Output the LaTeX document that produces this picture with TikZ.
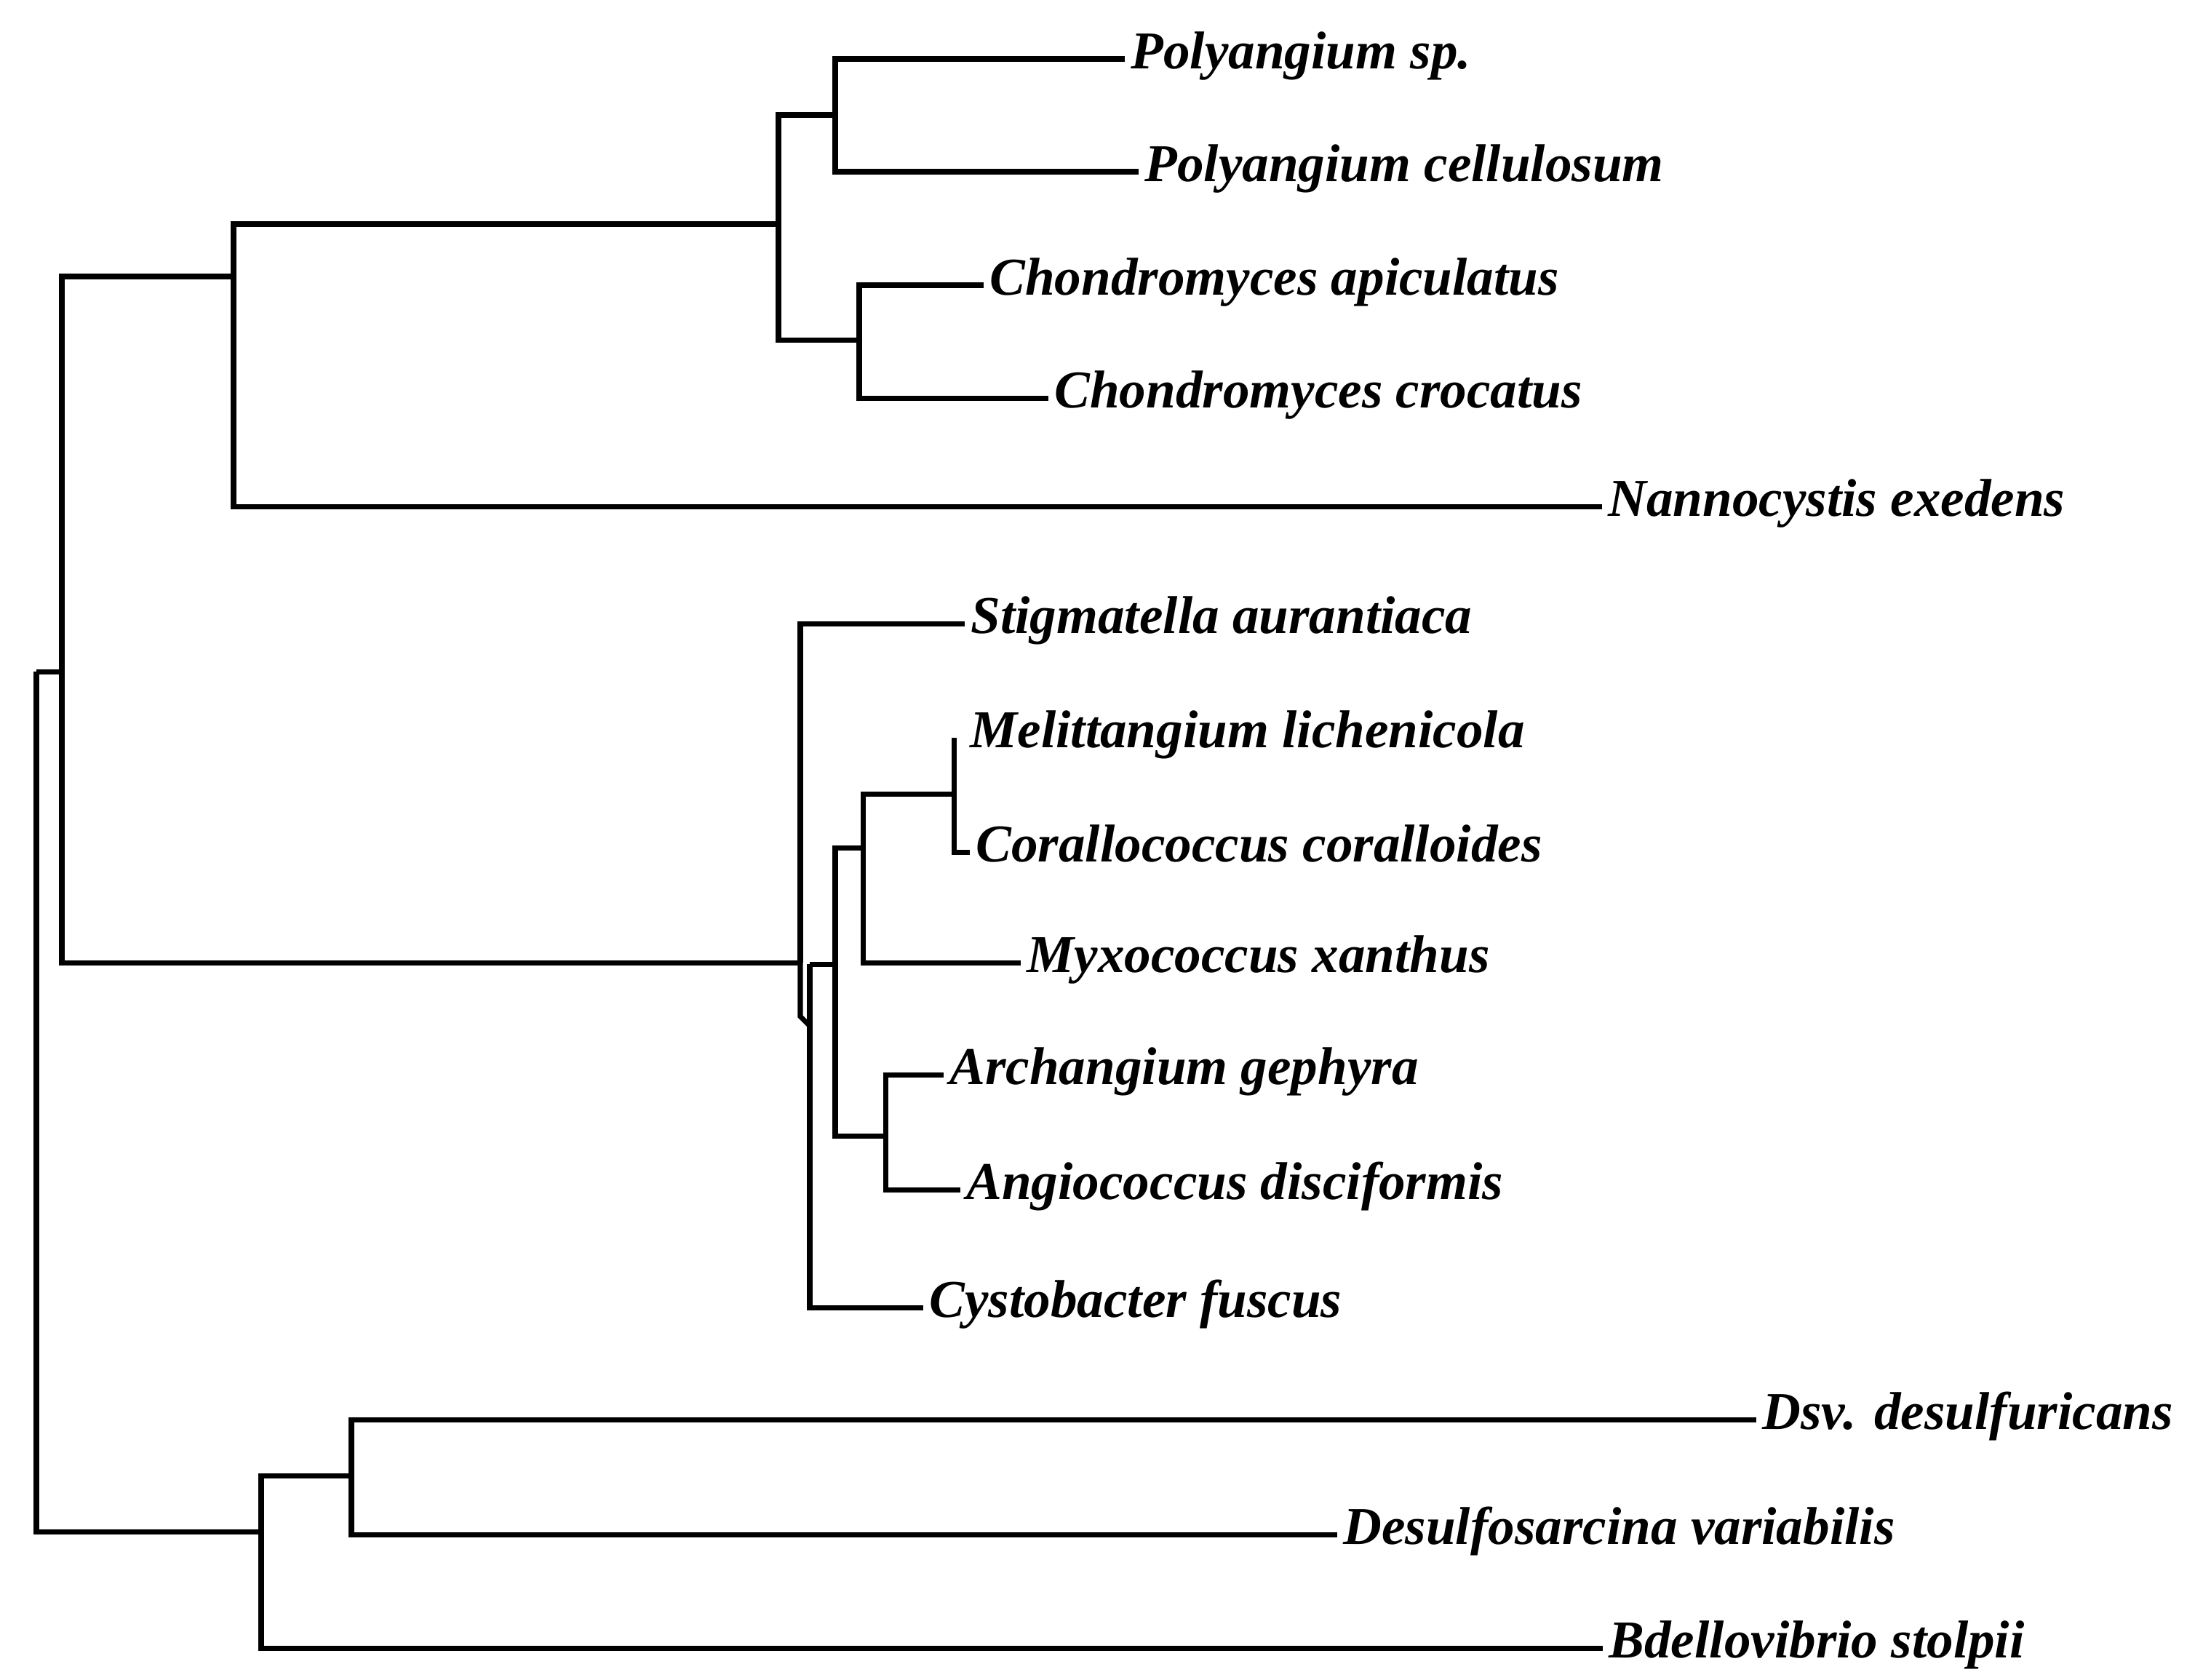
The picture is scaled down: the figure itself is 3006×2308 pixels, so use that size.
\documentclass[tikz,border=0pt]{standalone}
\usepackage{fontspec}
\setmainfont{Liberation Serif}
\begin{document}
\begin{tikzpicture}[x=0.01cm, y=-0.01cm, line width=2pt,
	leaf/.style={anchor=west, inner xsep=0.05cm, inner ysep=0pt, text height=0.47cm, text depth=0.21cm,
		font=\fontsize{20.8}{25}\selectfont\bfseries\itshape}]
	\useasboundingbox (0,0) rectangle (3006,2308);
	
	% 内部节点
	\coordinate (R) at (50,923);
	\coordinate (T) at (85,923);
	\coordinate (PCN) at (321,380);
	\coordinate (PC) at (1070,308);
	\coordinate (P1) at (1148,158);
	\coordinate (C1) at (1181,467);
	\coordinate (S) at (1100,1323);
	\coordinate (jog) at (1113,1410);
	\coordinate (Cy) at (1113,1325);
	\coordinate (I) at (1148,1325);
	\coordinate (MCM) at (1186,1165);
	\coordinate (MC) at (1311,1091);
	\coordinate (AA) at (1217,1561);
	\coordinate (B) at (359,2105);
	\coordinate (D) at (483,2028);
	
	% 物种名
	\node[leaf] (polsp) at (1546,81) {Polyangium sp.};
	\node[leaf] (polcel) at (1565,236) {Polyangium cellulosum};
	\node[leaf] (chapi) at (1352,392) {Chondromyces apiculatus};
	\node[leaf] (chcro) at (1441,547) {Chondromyces crocatus};
	\node[leaf] (nann) at (2202,696) {Nannocystis exedens};
	\node[leaf] (stig) at (1326,857) {Stigmatella aurantiaca};
	\node[leaf] (meli) at (1325,1014) {Melittangium lichenicola};
	\node[leaf] (coral) at (1333,1171) {Corallococcus coralloides};
	\node[leaf] (myxo) at (1403,1323) {Myxococcus xanthus};
	\node[leaf] (arch) at (1297,1477) {Archangium gephyra};
	\node[leaf] (angio) at (1320,1635) {Angiococcus disciformis};
	\node[leaf] (cysto) at (1269,1797) {Cystobacter fuscus};
	\node[leaf] (dsv) at (2414,1951) {Dsv. desulfuricans};
	\node[leaf] (dsar) at (1838,2109) {Desulfosarcina variabilis};
	\node[leaf] (bdel) at (2203,2265) {Bdellovibrio stolpii};
	
	% 根
	\draw (R) -- (T);
	\draw (R) |- (B);
	\draw (T) |- (PCN);
	\draw (T) |- (S);
	
	% Polyangium / Chondromyces / Nannocystis
	\draw (PCN) |- (PC);
	\draw (PCN) |- (nann.west);
	\draw (PC) |- (P1);
	\draw (PC) |- (C1);
	\draw (P1) |- (polsp.west);
	\draw (P1) |- (polcel.west);
	\draw (C1) |- (chapi.west);
	\draw (C1) |- (chcro.west);
	
	% 粘球菌
	\draw (S) |- (stig.west);
	\draw (S) -- ++(0,74) -- (jog);
	\draw (Cy) |- (cysto.west);
	\draw (Cy) -- (I);
	\draw (I) |- (MCM);
	\draw (I) |- (AA);
	\draw (MCM) |- (MC);
	\draw (MCM) |- (myxo.west);
	\draw (MC) -- (MC |- meli.west);
	\draw (MC) |- (coral.west);
	\draw (AA) |- (arch.west);
	\draw (AA) |- (angio.west);
	
	% 外群
	\draw (B) |- (D);
	\draw (B) |- (bdel.west);
	\draw (D) |- (dsv.west);
	\draw (D) |- (dsar.west);
\end{tikzpicture}
\end{document}
